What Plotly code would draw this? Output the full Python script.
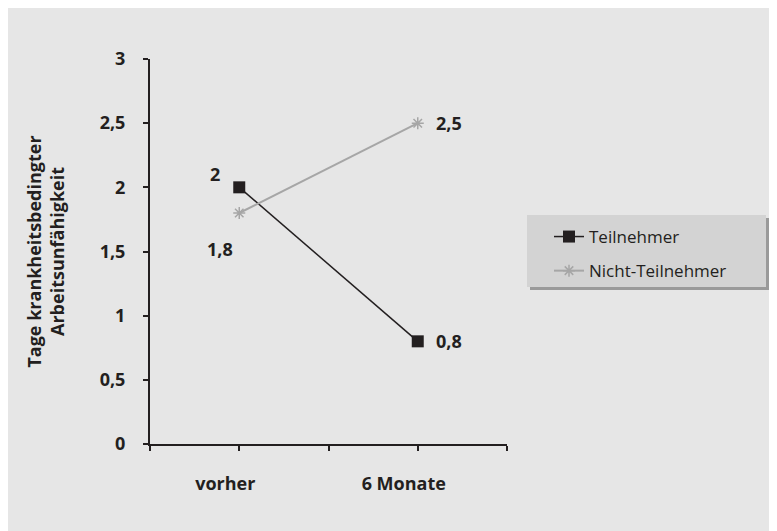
import plotly.graph_objects as go

categories = ["vorher", "6 Monate"]
teilnehmer = [2.0, 0.8]
nicht_teilnehmer = [1.8, 2.5]
teil_labels = ["2", "0,8"]
nicht_labels = ["1,8", "2,5"]
y_tickvals = [0, 0.5, 1, 1.5, 2, 2.5, 3]
y_ticktext = ["0", "0,5", "1", "1,5", "2", "2,5", "3"]

FONT = "Open Sans"
TXT = "#231f20"
BG = "#e6e6e6"
FS = 17
FSB = 18

xpos = [1, 2]

fig = go.Figure()
fig.add_trace(go.Scatter(
    x=xpos, y=teilnehmer, name="Teilnehmer", mode="lines+markers",
    line=dict(color="#231f20", width=1.5),
    marker=dict(symbol="square", size=12, color="#231f20"),
    legendgroup="a",
))
fig.add_trace(go.Scatter(
    x=xpos, y=nicht_teilnehmer, name="Nicht-Teilnehmer", mode="lines+markers",
    line=dict(color="#a6a6a6", width=2),
    marker=dict(symbol="asterisk-open", size=10, color="#a6a6a6",
                line=dict(color="#a6a6a6", width=1.5)),
    legendgroup="b",
))

# data labels: (xanchor, xshift, yshift)
pos_t = [("right", -17, 13), ("left", 16, 0)]
pos_n = [("right", -4, -36), ("left", 16, 0)]
lblfont = dict(family=FONT, size=FSB, color=TXT, weight="bold")
for i in range(2):
    fig.add_annotation(x=xpos[i], y=teilnehmer[i], text=teil_labels[i], showarrow=False,
                       xanchor=pos_t[i][0], xshift=pos_t[i][1], yshift=pos_t[i][2], font=lblfont)
    fig.add_annotation(x=xpos[i], y=nicht_teilnehmer[i], text=nicht_labels[i], showarrow=False,
                       xanchor=pos_n[i][0], xshift=pos_n[i][1], yshift=pos_n[i][2], font=lblfont)

L, R, T, B = 142, 278, 51, 95
W, H = 777, 531
pw, ph = W - L - R, H - T - B

def px_x(p):
    return (p - L) / pw

def px_y(p):
    return (H - B - p) / ph

# legend shadow and box
fig.add_shape(type="rect", xref="paper", yref="paper",
              x0=px_x(522), x1=px_x(761), y0=px_y(282), y1=px_y(210),
              fillcolor="#9a9a9a", line=dict(width=0), layer="above")
fig.add_shape(type="rect", xref="paper", yref="paper",
              x0=px_x(519), x1=px_x(758), y0=px_y(279), y1=px_y(207),
              fillcolor="#d3d3d3", line=dict(width=0), layer="above")

fig.update_layout(
    width=W, height=H,
    margin=dict(l=L, r=R, t=T, b=B, autoexpand=False),
    paper_bgcolor=BG, plot_bgcolor=BG,
    font=dict(family=FONT, color=TXT),
    showlegend=True,
    legend=dict(x=px_x(541), y=px_y(211), xanchor="left", yanchor="top",
                bgcolor="rgba(0,0,0,0)", borderwidth=0,
                font=dict(family=FONT, size=FS, color=TXT),
                traceorder="grouped", tracegroupgap=9),
    xaxis=dict(range=[0.5, 2.5], tickvals=[0.5, 1, 1.5, 2, 2.5],
               ticktext=["", categories[0], "", categories[1], ""],
               ticks="outside", ticklen=5, tickwidth=2, tickcolor=TXT,
               showline=True, linecolor=TXT, linewidth=2, showgrid=False, zeroline=False,
               ticklabelshift=-14, ticklabelstandoff=17,
               tickfont=dict(family=FONT, size=FSB, color=TXT, weight="bold")),
    yaxis=dict(range=[0, 3], tickvals=y_tickvals, ticktext=y_ticktext,
               ticks="outside", ticklen=5, tickwidth=2, tickcolor=TXT,
               showline=True, linecolor=TXT, linewidth=2, showgrid=False, zeroline=False,
               ticklabelstandoff=14,
               tickfont=dict(family=FONT, size=FSB, color=TXT, weight="bold"),
               title=dict(text="Tage krankheitsbedingter<br>Arbeitsunfähigkeit", standoff=30,
                          font=dict(family=FONT, size=FSB, color=TXT, weight="bold"))),
)

fig.write_html("out.html")
